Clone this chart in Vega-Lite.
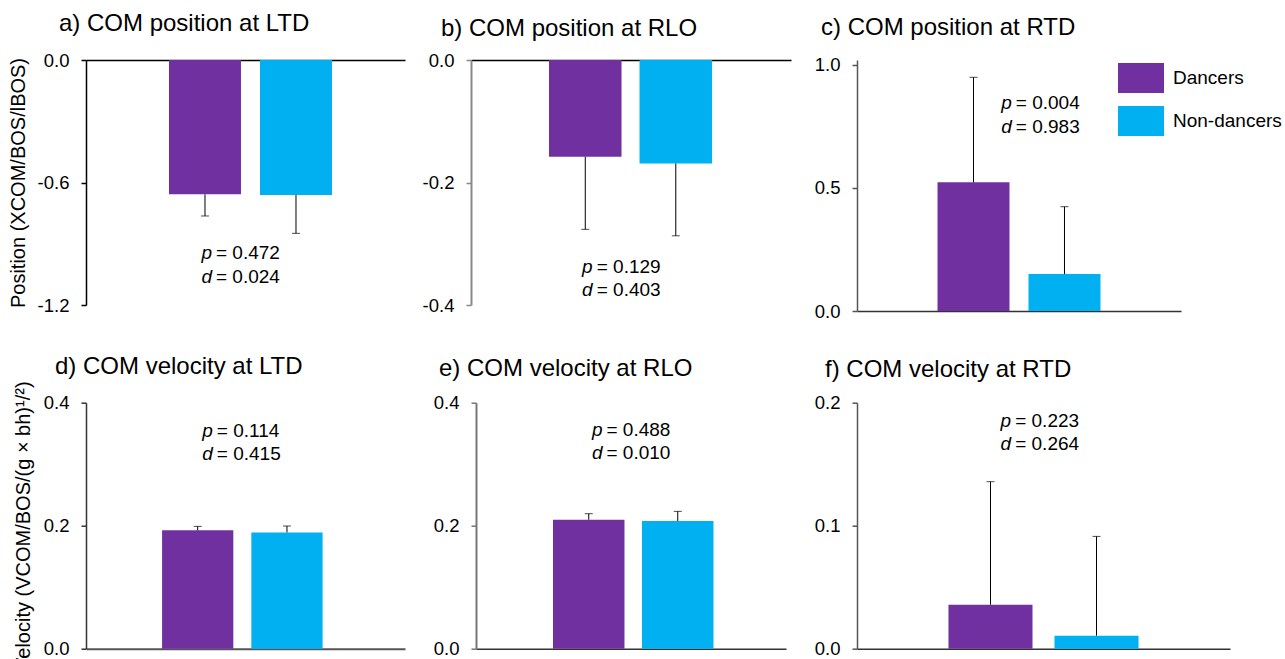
{
  "$schema": "https://vega.github.io/schema/vega-lite/v6.json",
  "padding": {"left": 8, "top": 12, "right": 0, "bottom": 0},
  "background": "white",
  "config": {
    "font": "Liberation Sans",
    "view": {"stroke": null},
    "axis": {"grid": false, "labelFont": "Liberation Sans", "labelFontSize": 18.5, "labelColor": "#000", "titleFont": "Liberation Sans", "titleFontSize": 20, "titleFontWeight": "normal", "titleColor": "#000", "tickSize": 5, "labelPadding": 12, "titlePadding": 9, "domainWidth": 1.5, "tickWidth": 1.5, "labelFlush": false},
    "title": {"font": "Liberation Sans", "fontSize": 24, "fontWeight": "normal", "anchor": "start", "frame": "group", "baseline": "alphabetic", "color": "#000"},
    "text": {"font": "Liberation Sans", "fontSize": 19, "color": "#000", "baseline": "alphabetic"}
  },
  "resolve": {"scale": {"color": "independent", "x": "independent", "y": "independent"}, "legend": {"color": "independent"}},
  "spacing": 32.7,
  "vconcat": [
    {
      "hconcat": [
        {
          "width": 319, "height": 245,
          "title": {"text": "a) COM position at LTD", "dx": -27, "offset": 15},
          "layer": [
            {
              "data": {"values": [{"group": "Dancers", "mean": -0.658, "end": -0.764}, {"group": "Non-dancers", "mean": -0.661, "end": -0.849}]},
              "layer": [
                {"mark": {"type": "bar"}, "encoding": {
                  "x": {"field": "group", "type": "nominal", "scale": {"domain": ["Dancers", "Non-dancers"], "paddingInner": 0.209, "paddingOuter": 0.857, "align": 0.532}, "axis": {"orient": "top", "labels": false, "ticks": false, "title": null, "domainColor": "#000"}},
                  "y": {"field": "mean", "type": "quantitative", "scale": {"domain": [-1.2, 0], "nice": false}, "axis": {"values": [-1.2, -0.6, 0], "labelExpr": "replace(format(datum.value, '.1f'), '\u2212', '-')", "title": "Position (XCOM/BOS/lBOS)", "domainColor": "#000", "tickColor": "#000", "minExtent": 30}},
                  "color": {"field": "group", "type": "nominal", "scale": {"domain": ["Dancers", "Non-dancers"], "range": ["#7030A0", "#00B0F0"]}, "legend": null}}},
                {"mark": {"type": "rule", "color": "#000", "strokeWidth": 1}, "encoding": {"x": {"field": "group", "type": "nominal"}, "y": {"field": "mean", "type": "quantitative"}, "y2": {"field": "end"}}},
                {"mark": {"type": "tick", "color": "#000", "thickness": 1, "size": 8}, "encoding": {"x": {"field": "group", "type": "nominal"}, "y": {"field": "end", "type": "quantitative"}}}
              ]
            },
            {
              "data": {"values": [{"sym": "p", "txt": "= 0.472", "ty": -0.976}, {"sym": "d", "txt": "= 0.024", "ty": -1.091}]},
              "layer": [
                {"mark": {"type": "text", "align": "right", "fontStyle": "italic", "dx": -2}, "encoding": {"x": {"datum": "Dancers", "type": "nominal", "bandPosition": 0.625}, "y": {"field": "ty", "type": "quantitative"}, "text": {"field": "sym"}}},
                {"mark": {"type": "text", "align": "left", "dx": 2}, "encoding": {"x": {"datum": "Dancers", "type": "nominal", "bandPosition": 0.625}, "y": {"field": "ty", "type": "quantitative"}, "text": {"field": "txt"}}}
              ]
            }
          ]
        },
        {
          "width": 320, "height": 245,
          "title": {"text": "b) COM position at RLO", "dx": -30, "offset": 9.75},
          "layer": [
            {
              "data": {"values": [{"group": "Dancers", "mean": -0.158, "end": -0.2765}, {"group": "Non-dancers", "mean": -0.169, "end": -0.287}]},
              "layer": [
                {"mark": {"type": "bar"}, "encoding": {
                  "x": {"field": "group", "type": "nominal", "scale": {"domain": ["Dancers", "Non-dancers"], "paddingInner": 0.199, "paddingOuter": 0.867, "align": 0.497}, "axis": {"orient": "top", "labels": false, "ticks": false, "title": null, "domainColor": "#000"}},
                  "y": {"field": "mean", "type": "quantitative", "scale": {"domain": [-0.4, 0], "nice": false}, "axis": {"values": [-0.4, -0.2, 0], "labelExpr": "replace(format(datum.value, '.1f'), '\u2212', '-')", "title": null, "domainColor": "#888888", "tickColor": "#888888", "domainWidth": 2}},
                  "color": {"field": "group", "type": "nominal", "scale": {"domain": ["Dancers", "Non-dancers"], "range": ["#7030A0", "#00B0F0"]}, "legend": null}}},
                {"mark": {"type": "rule", "color": "#000", "strokeWidth": 1}, "encoding": {"x": {"field": "group", "type": "nominal"}, "y": {"field": "mean", "type": "quantitative"}, "y2": {"field": "end"}}},
                {"mark": {"type": "tick", "color": "#000", "thickness": 1, "size": 8}, "encoding": {"x": {"field": "group", "type": "nominal"}, "y": {"field": "end", "type": "quantitative"}}}
              ]
            },
            {
              "data": {"values": [{"sym": "p", "txt": "= 0.129", "ty": -0.3478}, {"sym": "d", "txt": "= 0.403", "ty": -0.3853}]},
              "layer": [
                {"mark": {"type": "text", "align": "right", "fontStyle": "italic", "dx": -2}, "encoding": {"x": {"datum": "Dancers", "type": "nominal", "bandPosition": 0.63}, "y": {"field": "ty", "type": "quantitative"}, "text": {"field": "sym"}}},
                {"mark": {"type": "text", "align": "left", "dx": 2}, "encoding": {"x": {"datum": "Dancers", "type": "nominal", "bandPosition": 0.63}, "y": {"field": "ty", "type": "quantitative"}, "text": {"field": "txt"}}}
              ]
            }
          ]
        },
        {
          "width": 324, "height": 251,
          "title": {"text": "c) COM position at RTD", "dx": -36, "offset": 15.2},
          "layer": [
            {
              "data": {"values": [{"group": "Dancers", "mean": 0.523, "end": 0.95}, {"group": "Non-dancers", "mean": 0.15, "end": 0.424}]},
              "layer": [
                {"mark": {"type": "bar"}, "encoding": {
                  "x": {"field": "group", "type": "nominal", "scale": {"domain": ["Dancers", "Non-dancers"], "paddingInner": 0.209, "paddingOuter": 0.885}, "axis": {"orient": "bottom", "labels": false, "ticks": false, "title": null, "domainColor": "#333333"}},
                  "y": {"field": "mean", "type": "quantitative", "scale": {"domain": [0, 1.0203], "nice": false}, "axis": {"values": [0, 0.5, 1], "format": ".1f", "title": null, "domainColor": "#555555", "tickColor": "#555555"}},
                  "color": {"field": "group", "type": "nominal", "scale": {"domain": ["Dancers", "Non-dancers"], "range": ["#7030A0", "#00B0F0"]}, "legend": {"orient": "none", "legendX": 261, "legendY": -5, "title": null, "symbolType": "M-1,-0.65L1,-0.65L1,0.65L-1,0.65Z", "symbolSize": 2116, "symbolStrokeWidth": 0, "symbolOpacity": 1, "labelFontSize": 19, "labelFont": "Liberation Sans", "labelColor": "#000", "labelOffset": 9, "rowPadding": 5, "padding": 0}}}},
                {"mark": {"type": "rule", "color": "#000", "strokeWidth": 1}, "encoding": {"x": {"field": "group", "type": "nominal"}, "y": {"field": "mean", "type": "quantitative"}, "y2": {"field": "end"}}},
                {"mark": {"type": "tick", "color": "#000", "thickness": 1, "size": 8}, "encoding": {"x": {"field": "group", "type": "nominal"}, "y": {"field": "end", "type": "quantitative"}}}
              ]
            },
            {
              "data": {"values": [{"sym": "p", "txt": "= 0.004", "ty": 0.821}, {"sym": "d", "txt": "= 0.983", "ty": 0.7236}]},
              "layer": [
                {"mark": {"type": "text", "align": "right", "fontStyle": "italic", "dx": -2}, "encoding": {"x": {"datum": "Dancers", "type": "nominal", "bandPosition": 1.06}, "y": {"field": "ty", "type": "quantitative"}, "text": {"field": "sym"}}},
                {"mark": {"type": "text", "align": "left", "dx": 2}, "encoding": {"x": {"datum": "Dancers", "type": "nominal", "bandPosition": 1.06}, "y": {"field": "ty", "type": "quantitative"}, "text": {"field": "txt"}}}
              ]
            }
          ]
        }
      ],
      "spacing": 66,
      "bounds": "flush",
      "resolve": {"scale": {"color": "independent", "x": "independent", "y": "independent"}, "legend": {"color": "independent"}}
    },
    {
      "hconcat": [
        {
          "width": 319, "height": 246,
          "title": {"text": "d) COM velocity at LTD", "dx": -31, "offset": 2.3},
          "layer": [
            {
              "data": {"values": [{"group": "Dancers", "mean": 0.1924, "end": 0.1989}, {"group": "Non-dancers", "mean": 0.1891, "end": 0.1995}]},
              "layer": [
                {"mark": {"type": "bar"}, "encoding": {
                  "x": {"field": "group", "type": "nominal", "scale": {"domain": ["Dancers", "Non-dancers"], "paddingInner": 0.202, "paddingOuter": 0.888, "align": 0.48}, "axis": {"orient": "bottom", "labels": false, "ticks": false, "title": null, "domainColor": "#555555", "domainWidth": 2}},
                  "y": {"field": "mean", "type": "quantitative", "scale": {"domain": [0, 0.4], "nice": false}, "axis": {"values": [0, 0.2, 0.4], "format": ".1f", "title": "Velocity (VCOM/BOS/(g × bh)¹/²)", "domainColor": "#333333", "tickColor": "#333333", "minExtent": 44}},
                  "color": {"field": "group", "type": "nominal", "scale": {"domain": ["Dancers", "Non-dancers"], "range": ["#7030A0", "#00B0F0"]}, "legend": null}}},
                {"mark": {"type": "rule", "color": "#000", "strokeWidth": 1}, "encoding": {"x": {"field": "group", "type": "nominal"}, "y": {"field": "mean", "type": "quantitative"}, "y2": {"field": "end"}}},
                {"mark": {"type": "tick", "color": "#000", "thickness": 1, "size": 8}, "encoding": {"x": {"field": "group", "type": "nominal"}, "y": {"field": "end", "type": "quantitative"}}}
              ]
            },
            {
              "data": {"values": [{"sym": "p", "txt": "= 0.114", "ty": 0.3447}, {"sym": "d", "txt": "= 0.415", "ty": 0.3073}]},
              "layer": [
                {"mark": {"type": "text", "align": "right", "fontStyle": "italic", "dx": -2}, "encoding": {"x": {"datum": "Dancers", "type": "nominal", "bandPosition": 0.74}, "y": {"field": "ty", "type": "quantitative"}, "text": {"field": "sym"}}},
                {"mark": {"type": "text", "align": "left", "dx": 2}, "encoding": {"x": {"datum": "Dancers", "type": "nominal", "bandPosition": 0.74}, "y": {"field": "ty", "type": "quantitative"}, "text": {"field": "txt"}}}
              ]
            }
          ]
        },
        {
          "width": 310, "height": 246,
          "title": {"text": "e) COM velocity at RLO", "dx": -37, "offset": 12.75},
          "layer": [
            {
              "data": {"values": [{"group": "Dancers", "mean": 0.2098, "end": 0.2195}, {"group": "Non-dancers", "mean": 0.2076, "end": 0.2233}]},
              "layer": [
                {"mark": {"type": "bar"}, "encoding": {
                  "x": {"field": "group", "type": "nominal", "scale": {"domain": ["Dancers", "Non-dancers"], "paddingInner": 0.197, "paddingOuter": 0.84, "align": 0.515}, "axis": {"orient": "bottom", "labels": false, "ticks": false, "title": null, "domainColor": "#333333"}},
                  "y": {"field": "mean", "type": "quantitative", "scale": {"domain": [0, 0.4], "nice": false}, "axis": {"values": [0, 0.2, 0.4], "format": ".1f", "title": null, "domainColor": "#777777", "tickColor": "#777777", "domainWidth": 2}},
                  "color": {"field": "group", "type": "nominal", "scale": {"domain": ["Dancers", "Non-dancers"], "range": ["#7030A0", "#00B0F0"]}, "legend": null}}},
                {"mark": {"type": "rule", "color": "#000", "strokeWidth": 1}, "encoding": {"x": {"field": "group", "type": "nominal"}, "y": {"field": "mean", "type": "quantitative"}, "y2": {"field": "end"}}},
                {"mark": {"type": "tick", "color": "#000", "thickness": 1, "size": 8}, "encoding": {"x": {"field": "group", "type": "nominal"}, "y": {"field": "end", "type": "quantitative"}}}
              ]
            },
            {
              "data": {"values": [{"sym": "p", "txt": "= 0.488", "ty": 0.3463}, {"sym": "d", "txt": "= 0.010", "ty": 0.3089}]},
              "layer": [
                {"mark": {"type": "text", "align": "right", "fontStyle": "italic", "dx": -2}, "encoding": {"x": {"datum": "Dancers", "type": "nominal", "bandPosition": 0.72}, "y": {"field": "ty", "type": "quantitative"}, "text": {"field": "sym"}}},
                {"mark": {"type": "text", "align": "left", "dx": 2}, "encoding": {"x": {"datum": "Dancers", "type": "nominal", "bandPosition": 0.72}, "y": {"field": "ty", "type": "quantitative"}, "text": {"field": "txt"}}}
              ]
            }
          ]
        },
        {
          "width": 373, "height": 246,
          "title": {"text": "f) COM velocity at RTD", "dx": -32, "offset": 11.45},
          "layer": [
            {
              "data": {"values": [{"group": "Dancers", "mean": 0.0358, "end": 0.1358}, {"group": "Non-dancers", "mean": 0.0106, "end": 0.0913}]},
              "layer": [
                {"mark": {"type": "bar"}, "encoding": {
                  "x": {"field": "group", "type": "nominal", "scale": {"domain": ["Dancers", "Non-dancers"], "paddingInner": 0.2075, "paddingOuter": 0.863}, "axis": {"orient": "bottom", "labels": false, "ticks": false, "title": null, "domainColor": "#333333"}},
                  "y": {"field": "mean", "type": "quantitative", "scale": {"domain": [0, 0.2], "nice": false}, "axis": {"values": [0, 0.1, 0.2], "format": ".1f", "title": null, "domainColor": "#555555", "tickColor": "#555555"}},
                  "color": {"field": "group", "type": "nominal", "scale": {"domain": ["Dancers", "Non-dancers"], "range": ["#7030A0", "#00B0F0"]}, "legend": null}}},
                {"mark": {"type": "rule", "color": "#000", "strokeWidth": 1}, "encoding": {"x": {"field": "group", "type": "nominal"}, "y": {"field": "mean", "type": "quantitative"}, "y2": {"field": "end"}}},
                {"mark": {"type": "tick", "color": "#000", "thickness": 1, "size": 8}, "encoding": {"x": {"field": "group", "type": "nominal"}, "y": {"field": "end", "type": "quantitative"}}}
              ]
            },
            {
              "data": {"values": [{"sym": "p", "txt": "= 0.223", "ty": 0.1805}, {"sym": "d", "txt": "= 0.264", "ty": 0.1618}]},
              "layer": [
                {"mark": {"type": "text", "align": "right", "fontStyle": "italic", "dx": -2}, "encoding": {"x": {"datum": "Dancers", "type": "nominal", "bandPosition": 0.77}, "y": {"field": "ty", "type": "quantitative"}, "text": {"field": "sym"}}},
                {"mark": {"type": "text", "align": "left", "dx": 2}, "encoding": {"x": {"datum": "Dancers", "type": "nominal", "bandPosition": 0.77}, "y": {"field": "ty", "type": "quantitative"}, "text": {"field": "txt"}}}
              ]
            }
          ]
        }
      ],
      "spacing": 71,
      "bounds": "flush",
      "resolve": {"scale": {"color": "independent", "x": "independent", "y": "independent"}, "legend": {"color": "independent"}}
    }
  ]
}
